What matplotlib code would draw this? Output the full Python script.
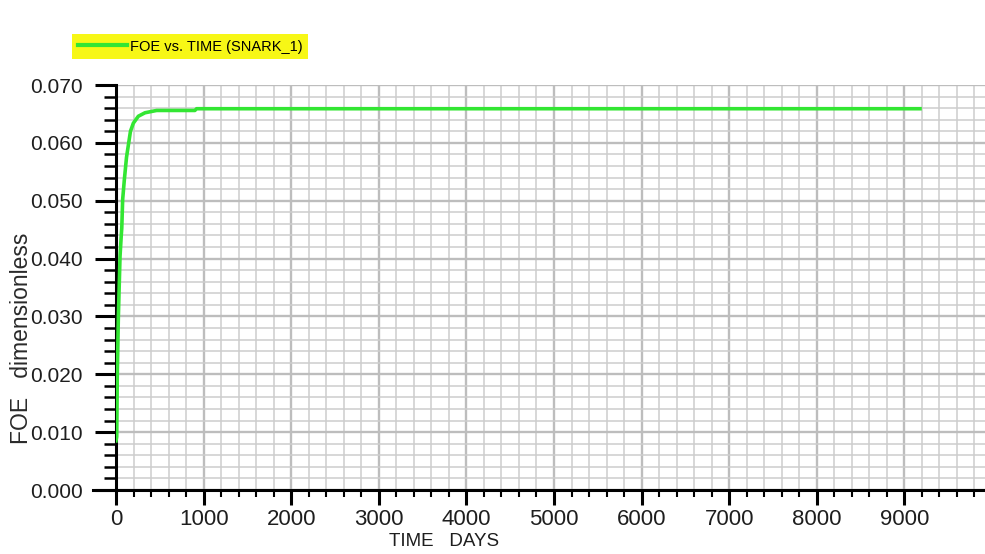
import matplotlib
matplotlib.use("Agg")
import matplotlib.pyplot as plt
from matplotlib.ticker import MultipleLocator, FormatStrFormatter

# FOE vs time
time_days = [0, 8, 15, 27, 46, 60, 66, 76, 95, 120, 141, 165, 198, 255,
             331, 464, 650, 900, 920, 9178]
foe = [0.0085, 0.0092, 0.0202, 0.0300, 0.0404, 0.0440, 0.0453, 0.0502,
       0.0536, 0.0575, 0.0596, 0.0620, 0.0634, 0.0646, 0.0652, 0.0656,
       0.0656, 0.0656, 0.0659, 0.0659]
series_name = "FOE vs. TIME (SNARK_1)"

plt.rcParams['font.family'] = ['Liberation Sans', 'DejaVu Sans']

W, H = 985, 554
fig = plt.figure(figsize=(W / 100, H / 100), dpi=100)
ax = fig.add_axes([116 / W, 1 - 490 / H, (W - 116) / W, (490 - 85) / H])

ax.plot(time_days, foe, color='#33e633', lw=2.6, label=series_name,
        solid_joinstyle='round', zorder=3)

ax.set_xlim(0, 9920)
ax.set_ylim(0, 0.070)
ax.xaxis.set_major_locator(MultipleLocator(1000))
ax.xaxis.set_minor_locator(MultipleLocator(200))
ax.yaxis.set_major_locator(MultipleLocator(0.01))
ax.yaxis.set_minor_locator(MultipleLocator(0.002))
ax.yaxis.set_major_formatter(FormatStrFormatter('%.3f'))

ax.grid(which='major', color='#bdbdbd', lw=1.7, zorder=0)
ax.grid(which='minor', color='#cdcdcd', lw=1.1, zorder=0)
ax.set_axisbelow(True)

for s in ['top', 'right']:
    ax.spines[s].set_visible(False)
for s in ['left', 'bottom']:
    ax.spines[s].set_linewidth(2.2)
    ax.spines[s].set_color('black')
ax.spines['bottom'].set_bounds(-260, 9920)

ax.tick_params(axis='y', which='major', direction='out', length=15, width=2.2,
               pad=9, labelsize=15, labelcolor='#1e1e1e')
ax.tick_params(axis='y', which='minor', direction='out', length=9, width=1.8)
ax.tick_params(axis='x', which='major', direction='out', length=11, width=2.2,
               pad=3, labelsize=16, labelcolor='#1e1e1e')
ax.tick_params(axis='x', which='minor', direction='out', length=5, width=1.5)

ax.set_xlabel("TIME   DAYS", fontsize=13.5, color='#1e1e1e')
ax.xaxis.set_label_coords(0.377, -0.105)
ax.set_ylabel("FOE   dimensionless", fontsize=16.5, color='#2a2a2a')
ax.yaxis.set_label_coords(-0.095, 0.375)

leg = ax.legend(loc='upper left', bbox_to_anchor=(72 / W, 1 - 34 / H),
                bbox_transform=fig.transFigure, frameon=True, fancybox=False,
                facecolor='#f7f716', edgecolor='none', framealpha=1,
                borderpad=0.38, borderaxespad=0, handlelength=3.4,
                handletextpad=0.2, prop={'size': 10.5})
leg.get_lines()[0].set_linewidth(3)

fig.savefig("out.png", dpi=100)
